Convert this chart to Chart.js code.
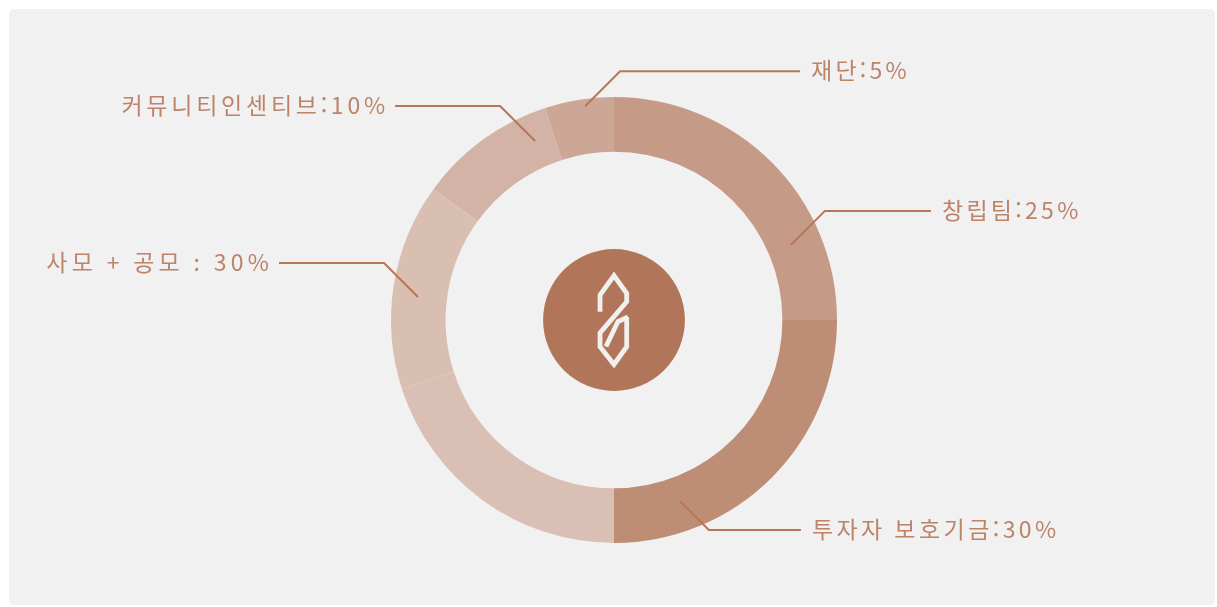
<!DOCTYPE html>
<html lang="ko">
<head>
<meta charset="utf-8">
<title>토큰 분배</title>
<script src="https://cdn.jsdelivr.net/npm/chart.js@4.4.1/dist/chart.umd.min.js"></script>
<style>
    html, body { margin: 0; padding: 0; background: #ffffff; }
    .card {
        position: absolute;
        left: 9px; top: 9px; width: 1206px; height: 596px;
        background: #f1f1f1;
        border-radius: 5px;
    }
    #allocChart { position: absolute; left: 0; top: 0; }
</style>
</head>
<body>
<div class="card"></div>
<canvas id="allocChart" width="1217" height="607"></canvas>
<script>
// segments, clockwise from 12 o'clock
const categories = ["창립팀", "투자자 보호기금", "사모", "공모", "커뮤니티인센티브", "재단"];
const shares = [25, 25, 20, 15, 10, 5];
const sliceColors = ["#c59a86", "#be8d76", "#dac0b4", "#d9bfb2", "#d3b3a5", "#cca796"];

// callout texts as printed next to the ring
const calloutTexts = ["창립팀:25%", "투자자 보호기금:30%", "사모 + 공모 : 30%", "커뮤니티인센티브:10%", "재단:5%"];

// where each leader line leaves the ring (deg clockwise from top, fraction of outer radius)
// rise = vertical run of the 45° elbow, dir = side, len = horizontal run
const callouts = [
    { text: 0, angle: 67.0, r: 0.862, rise: -34, dir: 1, len: 106, spacing: 3.3 },
    { text: 1, angle: 160.0, r: 0.864, rise: 29, dir: 1, len: 92, spacing: 3.45 },
    { text: 2, angle: 276.7, r: 0.885, rise: -34, dir: -1, len: 105, spacing: 4.3 },
    { text: 3, angle: 336.2, r: 0.877, rise: -35, dir: -1, len: 105, spacing: 3.75 },
    { text: 4, angle: 352.3, r: 0.967, rise: -35, dir: 1, len: 180, spacing: 3.2 },
];

const LINE_COLOR = "#b87558";
const TEXT_COLOR = "#bc8369";
const HUB_COLOR = "#b1765a";
const LOGO_COLOR = "#f2f0ef";

// logo polylines, in units where the hub radius is 71
const logoStrokes = [
    [[-14, -8.3], [-14, -25], [0, -44.5], [12.7, -26.7], [12.7, -18.3], [-14, 13], [-14, 26.7], [0, 44.5], [12.7, 26.7], [12.7, -3]],
    [[14, -3], [4, 1.5], [-8, 26.5]],
];

const calloutPlugin = {
    id: "callouts",
    afterDraw(chart) {
        const arc = chart.getDatasetMeta(0).data[0];
        if (!arc) return;
        const cx = arc.x, cy = arc.y, R = arc.outerRadius;
        const ctx = chart.ctx;
        ctx.save();

        // hub
        const hubR = R * 0.318;
        ctx.fillStyle = HUB_COLOR;
        ctx.beginPath();
        ctx.arc(cx, cy, hubR, 0, Math.PI * 2);
        ctx.fill();

        // logo
        const u = hubR / 71;
        ctx.strokeStyle = LOGO_COLOR;
        ctx.lineWidth = 4.8 * u;
        ctx.lineJoin = "miter";
        ctx.miterLimit = 2.2;
        ctx.lineCap = "butt";
        logoStrokes.forEach(s => {
            ctx.beginPath();
            s.forEach((pt, i) => {
                const x = cx + pt[0] * u, y = cy + pt[1] * u;
                if (i === 0) ctx.moveTo(x, y); else ctx.lineTo(x, y);
            });
            ctx.stroke();
        });

        // leader lines + labels
        ctx.font = "23px 'Noto Sans CJK KR', 'Noto Sans', sans-serif";
        ctx.textBaseline = "middle";
        callouts.forEach(c => {
            const a = c.angle * Math.PI / 180;
            const x0 = cx + Math.sin(a) * R * c.r;
            const y0 = cy - Math.cos(a) * R * c.r;
            const x1 = x0 + c.dir * Math.abs(c.rise);
            const y1 = y0 + c.rise;
            const x2 = x1 + c.dir * c.len;
            ctx.strokeStyle = LINE_COLOR;
            ctx.lineWidth = 2;
            ctx.lineJoin = "round";
            ctx.beginPath();
            ctx.moveTo(x0, y0);
            ctx.lineTo(x1, y1);
            ctx.lineTo(x2, y1);
            ctx.stroke();

            ctx.letterSpacing = c.spacing + "px";
            ctx.fillStyle = TEXT_COLOR;
            const txt = calloutTexts[c.text];
            if (c.dir > 0) {
                ctx.textAlign = "left";
                ctx.fillText(txt, x2 + 11, y1 - 1);
            } else {
                ctx.textAlign = "right";
                // trailing letter spacing is counted in the width, compensate
                ctx.fillText(txt, x2 - 10 + c.spacing, y1 - 1);
            }
        });
        ctx.restore();
    },
};

new Chart(document.getElementById("allocChart"), {
    type: "doughnut",
    data: {
        labels: categories,
        datasets: [{
            data: shares,
            backgroundColor: sliceColors,
            borderWidth: 0,
            hoverOffset: 0,
        }],
    },
    options: {
        responsive: false,
        animation: false,
        cutout: "75.5%",
        layout: { padding: { left: 11, right: 0, top: 97, bottom: 64 } },
        plugins: {
            legend: { display: false },
            tooltip: { enabled: false },
        },
    },
    plugins: [calloutPlugin],
});
</script>
</body>
</html>
